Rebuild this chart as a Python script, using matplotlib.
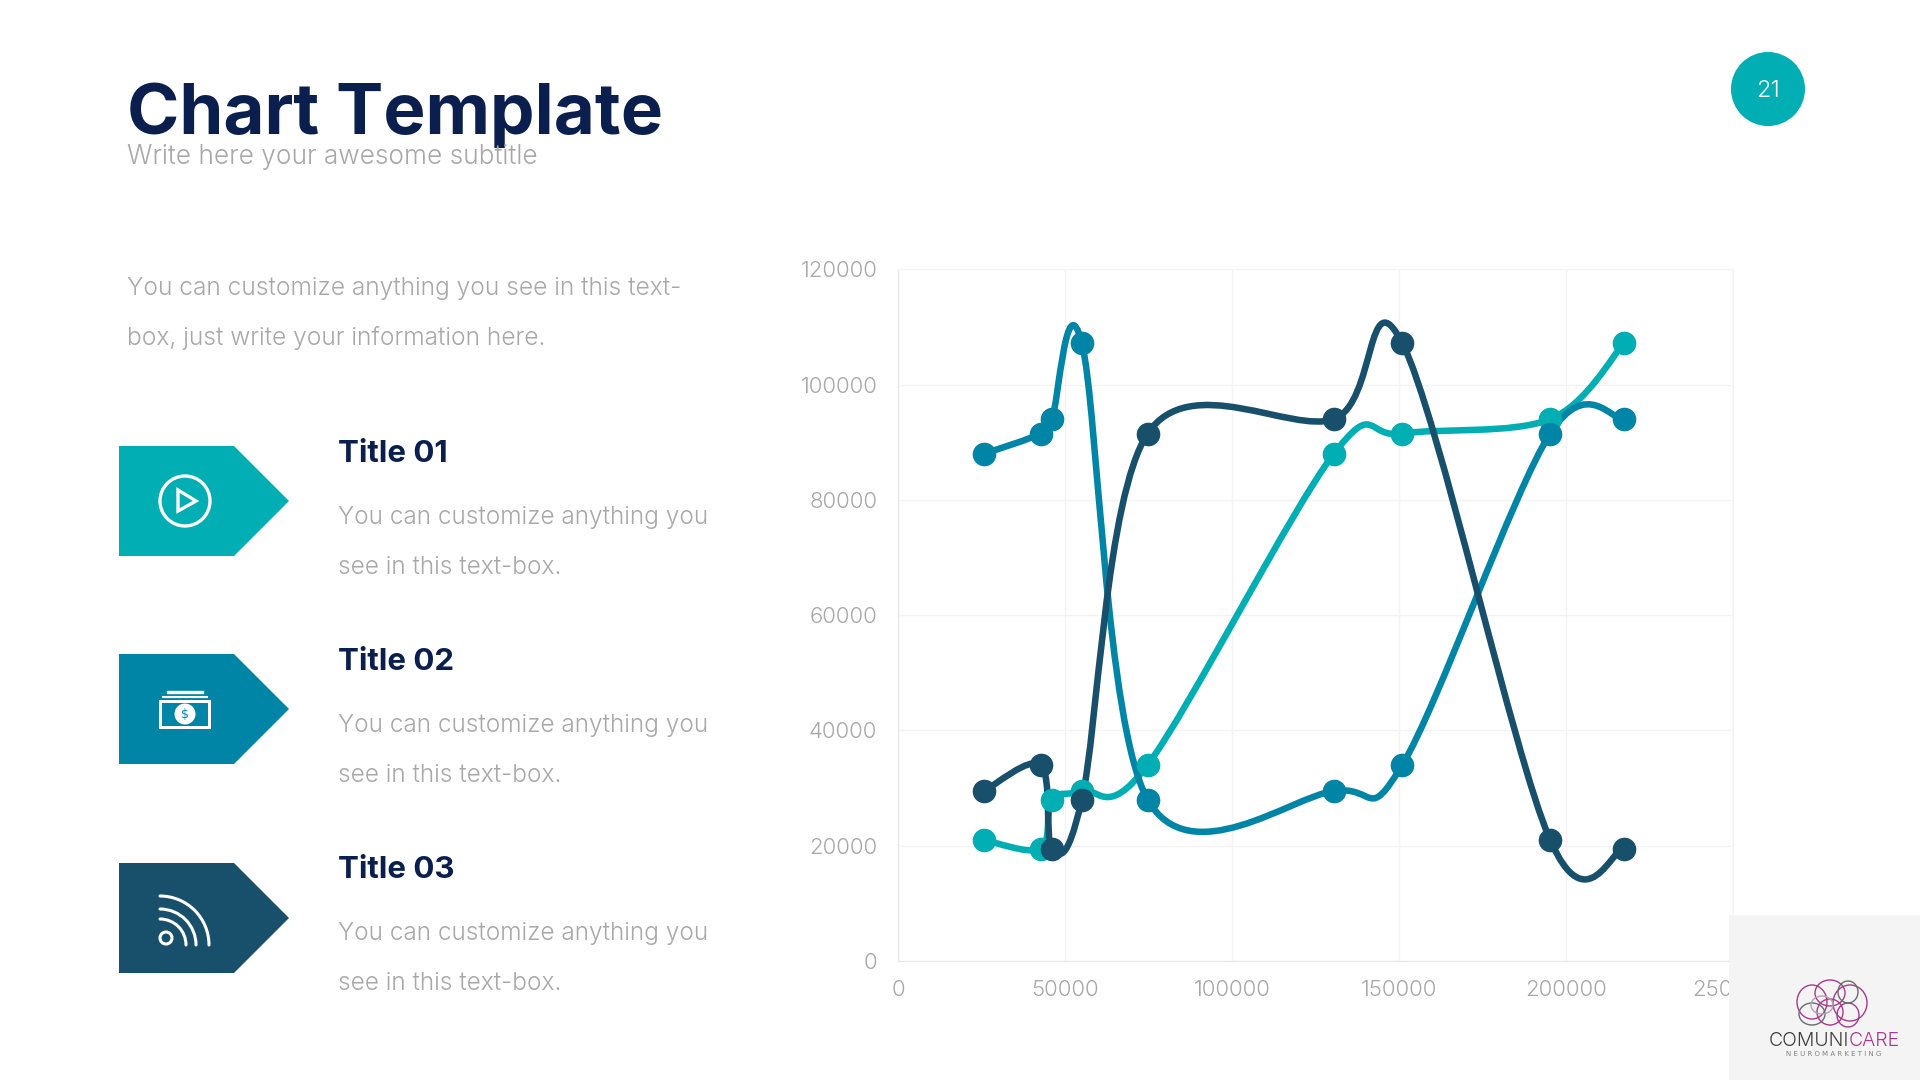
import numpy as np
import matplotlib
matplotlib.use("Agg")
import matplotlib.pyplot as plt
from matplotlib.path import Path
from matplotlib.patches import PathPatch, Polygon, Circle, Rectangle, Arc, Ellipse

# data
x_vals = [25700, 42700, 46000, 55000, 74700, 130500, 151000, 195300, 217500]
teal_vals = [21000, 19500, 28000, 29500, 34000, 88000, 91500, 94000, 107200]
blue_vals = [88000, 91500, 94000, 107200, 28000, 29500, 34000, 91500, 94000]
dark_vals = [29500, 34000, 19500, 28000, 91500, 94000, 107200, 21000, 19500]
x_ticks = [0, 50000, 100000, 150000, 200000, 250000]
y_ticks = [0, 20000, 40000, 60000, 80000, 100000, 120000]
titles = ["Title 01", "Title 02", "Title 03"]

TEAL = "#00AEB4"
BLUE = "#0085A6"
DARK = "#18506C"
NAVY = "#0B1F4F"
GREY = "#A8A8A8"
BODY_FONT = ["Inter", "DejaVu Sans"]

AX_L, AX_R, AX_T, AX_B = 898.3, 1732.7, 269.3, 961.0


def smooth_path(xs, ys):
    # spreadsheet style smoothing, plain catmull-rom through the data points
    p = np.column_stack([xs, ys]).astype(float)
    n = len(p)
    verts = [p[0]]
    codes = [Path.MOVETO]
    for i in range(n - 1):
        a = p[max(i - 1, 0)]
        b = p[i]
        c = p[i + 1]
        d = p[min(i + 2, n - 1)]
        verts += [b + (c - a) / 6, c - (d - b) / 6, c]
        codes += [Path.CURVE4, Path.CURVE4, Path.CURVE4]
    return Path(np.array(verts), codes)


fig = plt.figure(figsize=(19.2, 10.8), dpi=100, facecolor="white")

ax = fig.add_axes([AX_L / 1920, 1 - AX_B / 1080, (AX_R - AX_L) / 1920, (AX_B - AX_T) / 1080])
ax.set_xlim(0, 250000)
ax.set_ylim(0, 120000)
ax.set_xticks(x_ticks)
ax.set_yticks(y_ticks)
ax.grid(True, color="#F3F3F3", lw=1)
ax.set_axisbelow(True)
for side in ["top", "right"]:
    ax.spines[side].set_color("#F3F3F3")
for side in ["left", "bottom"]:
    ax.spines[side].set_color("#E6E6E6")
ax.tick_params(length=0, labelcolor=GREY, labelsize=16)
ax.tick_params(axis="x", pad=13.5)
ax.tick_params(axis="y", pad=15)
for lab in ax.get_xticklabels() + ax.get_yticklabels():
    lab.set_family(BODY_FONT)
    lab.set_fontweight(300)

for vals, col in [(teal_vals, TEAL), (blue_vals, BLUE), (dark_vals, DARK)]:
    ax.add_patch(PathPatch(smooth_path(x_vals, vals), fc="none", ec=col, lw=4.7, capstyle="round"))
    ax.plot(x_vals, vals, ls="none", marker="o", ms=16, mfc=col, mec=col, clip_on=False)

# page furniture, drawn in pixel coordinates
pg = fig.add_axes([0, 0, 1, 1], zorder=5)
pg.set_xlim(0, 1920)
pg.set_ylim(1080, 0)
pg.axis("off")
pg.patch.set_alpha(0)

pg.text(127, 134, "Chart Template", fontsize=51, fontweight="bold", color=NAVY, family=BODY_FONT, va="baseline")
pg.text(127, 164, "Write here your awesome subtitle", fontsize=18.9, color=GREY, family=BODY_FONT, fontweight=300, va="baseline")

pg.add_patch(Circle((1768, 89), 37, fc=TEAL, ec="none"))
pg.text(1768, 91, "21", color="white", fontsize=17, ha="center", va="center", family=BODY_FONT, fontweight=300)

pg.text(127, 288, "You can customize anything you see in this text-", fontsize=17.7, color=GREY, family=BODY_FONT, fontweight=300, va="center")
pg.text(127, 338, "box, just write your information here.", fontsize=17.7, color=GREY, family=BODY_FONT, fontweight=300, va="center")

for i, (name, col) in enumerate(zip(titles, [TEAL, BLUE, DARK])):
    top = [446, 654, 863][i]
    pg.add_patch(Polygon([(119, top), (234, top), (289, top + 55), (234, top + 110), (119, top + 110)], fc=col, ec="none"))
    ty = [452, 660, 868][i] + 2.5
    pg.text(338, ty, name, fontsize=22.5, fontweight="bold", color=NAVY, family=BODY_FONT, va="center")
    pg.text(338, ty + 63, "You can customize anything you", fontsize=17.6, color=GREY, family=BODY_FONT, fontweight=300, va="center")
    pg.text(338, ty + 113, "see in this text-box.", fontsize=17.6, color=GREY, family=BODY_FONT, fontweight=300, va="center")

# play icon
pg.add_patch(Circle((185, 501), 25, fc="none", ec="white", lw=2.4))
pg.add_patch(Polygon([(178, 490), (196, 501), (178, 511)], closed=True, fc="none", ec="white", lw=2.4))

# banknote icon
pg.add_patch(Rectangle((159, 700), 52, 29, fc="white", ec="none"))
pg.add_patch(Rectangle((162, 703), 46, 23, fc=BLUE, ec="none"))
pg.add_patch(Circle((185, 714), 10.5, fc="white", ec="none"))
pg.text(185, 714, "$", fontsize=9, color=BLUE, ha="center", va="center")
pg.plot([168, 202], [692, 692], color="white", lw=2.4)
pg.plot([163, 207], [697, 697], color="white", lw=1.5)

# signal icon
pg.add_patch(Circle((166, 938), 6, fc="none", ec="white", lw=2.2))
for r in [26, 36, 49]:
    pg.add_patch(Arc((160, 945), 2 * r, 2 * r, theta1=270, theta2=360, ec="white", lw=2.2, capstyle="round"))

# logo block
pg.add_patch(Rectangle((1729, 915), 191, 165, fc="#F4F4F4", ec="none"))
MAGENTA = "#A83A8E"
for cx, cy, w, h, c in [(1812, 1002, 30, 34, MAGENTA), (1830, 993, 30, 26, MAGENTA), (1850, 1003, 34, 36, MAGENTA),
                        (1812, 1014, 26, 22, "#6B6B6B"), (1830, 1012, 26, 26, MAGENTA), (1848, 1015, 22, 24, MAGENTA),
                        (1848, 992, 20, 22, "#6B6B6B"), (1822, 1005, 22, 18, "#B9A0B4")]:
    pg.add_patch(Ellipse((cx, cy), w, h, fc="none", ec=c, lw=1))
pg.text(1849, 1041, "COMUNI", fontsize=14, color="#3F3F3F", ha="right", va="center", family=BODY_FONT, fontweight=300)
pg.text(1849, 1041, "CARE", fontsize=14, color=MAGENTA, ha="left", va="center", family=BODY_FONT, fontweight=300)
pg.text(1834, 1054, "N E U R O M A R K E T I N G", fontsize=5, color="#808080", ha="center", va="center")

fig.savefig("out.png", dpi=100)
